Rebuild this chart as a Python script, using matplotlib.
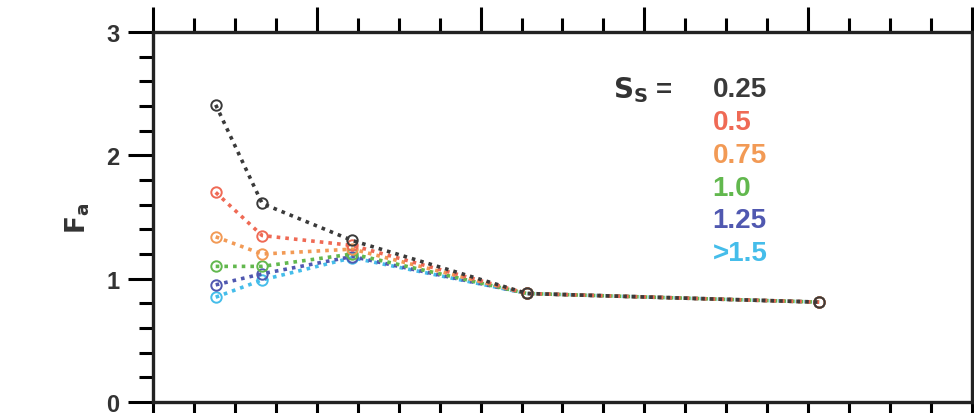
import matplotlib.pyplot as plt
from matplotlib.ticker import MultipleLocator

plt.rcParams['font.family'] = ['Liberation Sans', 'DejaVu Sans']

# x positions of the points (no tick labels shown in the source)
vs30 = [115, 200, 365, 685, 1220]

ss_labels = ['0.25', '0.5', '0.75', '1.0', '1.25', '>1.5']
fa_025 = [2.41, 1.61, 1.31, 0.88, 0.81]
fa_050 = [1.70, 1.35, 1.27, 0.88, 0.81]
fa_075 = [1.34, 1.20, 1.24, 0.88, 0.81]
fa_100 = [1.10, 1.10, 1.20, 0.88, 0.81]
fa_125 = [0.95, 1.04, 1.18, 0.88, 0.81]
fa_150 = [0.85, 0.99, 1.17, 0.88, 0.81]

series = [fa_025, fa_050, fa_075, fa_100, fa_125, fa_150]
colors = ['#3a3a3a', '#ef6a55', '#f29a55', '#62b84e', '#5058b0', '#45bdea']

fig = plt.figure(figsize=(9.74, 4.14), dpi=100)
ax = fig.add_axes([0.157, 0.0266, 0.841, 0.8934])

# draw the light colours first so black ends up on top
for vals, c in reversed(list(zip(series, colors))):
    ax.plot(vs30, vals, linestyle=(0, (1, 1.4)), linewidth=2.6, color=c,
            marker='o', markersize=7.5, markerfacecolor='none',
            markeredgewidth=1.4, markeredgecolor=c)

ax.set_xlim(0, 1500)
ax.set_ylim(0, 3)
ax.xaxis.set_major_locator(MultipleLocator(300))
ax.xaxis.set_minor_locator(MultipleLocator(75))
ax.yaxis.set_major_locator(MultipleLocator(1))
ax.yaxis.set_minor_locator(MultipleLocator(0.2))

ax.tick_params(axis='x', which='both', direction='out', top=True, bottom=True,
               labelbottom=False, width=2.2)
ax.tick_params(axis='y', which='both', direction='out', left=True, right=False,
               width=2.2)
ax.tick_params(which='major', length=18)
ax.tick_params(which='minor', length=10)
ax.tick_params(axis='y', labelsize=17, pad=6)
for lab in ax.get_yticklabels():
    lab.set_fontweight('bold')
    lab.set_color('#333333')

for sp in ax.spines.values():
    sp.set_linewidth(2.4)
    sp.set_color('#222222')

ax.set_ylabel(r'$\mathbf{F_a}$', fontsize=19, color='#333333', labelpad=10)

# colour-coded Ss key
ax.text(0.562, 0.845, r'$\mathbf{S_S}$ =', transform=ax.transAxes,
        fontsize=20, fontweight='bold', color='#333333', va='center')
y0 = 0.845
for i, (lab, c) in enumerate(zip(ss_labels, colors)):
    ax.text(0.683, y0 - i * 0.0885, lab, transform=ax.transAxes,
            fontsize=20, fontweight='bold', color=c, va='center')

fig.savefig('out.png', dpi=100)
